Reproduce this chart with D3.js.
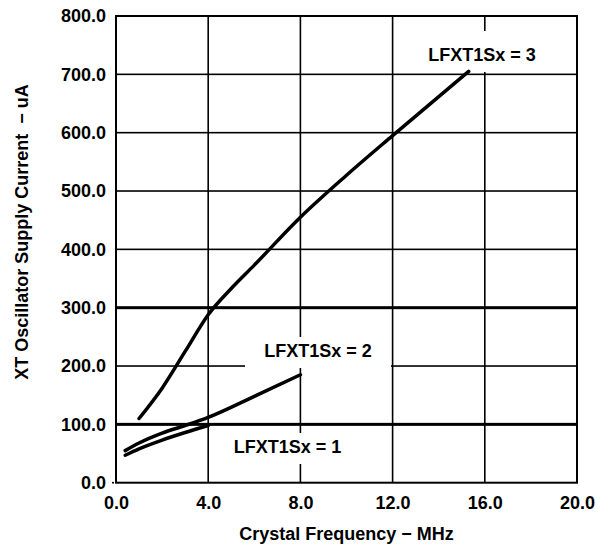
<!DOCTYPE html>
<html><head><meta charset="utf-8">
<script src="https://cdn.jsdelivr.net/npm/d3@7"></script>
<style>
html,body{margin:0;padding:0;background:#fff;}
text{font-family:"Liberation Sans",Arial,sans-serif;font-weight:bold;fill:#000;}
</style></head>
<body>
<svg id="chart" width="596" height="548"></svg>
<script>
// ---- data ----
const xTicks = [0, 4, 8, 12, 16, 20];
const yTicks = [0, 100, 200, 300, 400, 500, 600, 700, 800];
const thickY = [100, 300];
const series3X = [1.0, 2.0, 3.0, 4.0, 5.0, 6.0, 8.0, 10.0, 12.0, 15.3];
const series3Y = [110, 162, 225, 288, 333, 373, 455, 527, 595, 705];
const series2X = [0.4, 1.0, 2.0, 3.0, 4.0, 6.0, 8.0];
const series2Y = [55, 68, 85, 98, 112, 148, 185];
const series1X = [0.4, 1.0, 2.0, 3.0, 4.0];
const series1Y = [47, 58, 73, 86, 98];
const labels = ["LFXT1Sx = 3", "LFXT1Sx = 2", "LFXT1Sx = 1"];
const xTitle = "Crystal Frequency \u2212 MHz";
const yTitle = "XT Oscillator Supply Current  \u2212 uA";

const svg = d3.select("#chart");
const x = d3.scaleLinear().domain([0, 20]).range([116, 577]);
const y = d3.scaleLinear().domain([0, 800]).range([482.7, 16]);

// gridlines drawn as thin filled rects
const grid = svg.append("g").attr("class", "grid");
grid.selectAll("rect.vg").data(xTicks.slice(1, -1)).enter().append("rect")
  .attr("class", "vg")
  .attr("x", d => x(d) - 0.8).attr("width", 1.6)
  .attr("y", y(800)).attr("height", y(0) - y(800))
  .attr("fill", "#000");
grid.selectAll("rect.hg").data(yTicks.slice(1, -1)).enter().append("rect")
  .attr("class", "hg")
  .attr("x", x(0)).attr("width", x(20) - x(0))
  .attr("y", d => y(d) - (thickY.includes(d) ? 1.5 : 0.8))
  .attr("height", d => thickY.includes(d) ? 3 : 1.6)
  .attr("fill", "#000");

// label backgrounds (gaps in grid)
const labelBoxes = [
  {x0: 423, x1: 542, y0: 31, y1: 72},
  {x0: 245, x1: 391, y0: 337, y1: 368},
  {x0: 227, x1: 348, y0: 433, y1: 464}
];
svg.selectAll("rect.lb").data(labelBoxes).enter().append("rect")
  .attr("class", "lb")
  .attr("x", d => d.x0).attr("y", d => d.y0)
  .attr("width", d => d.x1 - d.x0).attr("height", d => d.y1 - d.y0)
  .attr("fill", "#fff");

// frame
svg.append("rect").attr("x", x(0)).attr("y", y(800))
  .attr("width", x(20) - x(0)).attr("height", y(0) - y(800))
  .attr("fill", "none").attr("stroke", "#000").attr("stroke-width", 2);

// axes
const xAxis = svg.append("g").attr("transform", `translate(0,${y(0)})`)
  .call(d3.axisBottom(x).tickValues(xTicks).tickSize(0).tickPadding(14).tickFormat(d3.format(".1f")));
const yAxis = svg.append("g").attr("transform", `translate(${x(0)},0)`)
  .call(d3.axisLeft(y).tickValues(yTicks).tickSize(0).tickPadding(10).tickFormat(d3.format(".1f")));
[xAxis, yAxis].forEach(a => {
  a.select(".domain").remove();
  a.selectAll("text").style("font-size", "18px").style("font-family", "'Liberation Sans',Arial,sans-serif").style("font-weight", "bold").attr("fill", "#000");
});
xAxis.selectAll("text").attr("dy", "0.71em");
// small tick at 0.0
svg.append("rect").attr("x", x(0) - 4).attr("width", 2)
  .attr("y", y(0) - 0.8).attr("height", 1.6).attr("fill", "#000");

// curves
const line = d3.line().x(d => x(d[0])).y(d => y(d[1])).curve(d3.curveMonotoneX);
const seriesList = [
  d3.zip(series3X, series3Y),
  d3.zip(series2X, series2Y),
  d3.zip(series1X, series1Y)
];
svg.selectAll("path.s").data(seriesList).enter().append("path")
  .attr("class", "s")
  .attr("d", line).attr("fill", "none").attr("stroke", "#000")
  .attr("stroke-width", 3.5).attr("stroke-linecap", "round");

// labels
const labelPos = [[482, 61], [318, 356.5], [287.5, 452.5]];
svg.selectAll("text.lab").data(labels).enter().append("text")
  .attr("class", "lab")
  .attr("x", (d, i) => labelPos[i][0]).attr("y", (d, i) => labelPos[i][1])
  .attr("text-anchor", "middle").style("font-size", "18px").text(d => d);

// titles
svg.append("text").attr("x", (x(0) + x(20)) / 2).attr("y", 540)
  .attr("text-anchor", "middle").style("font-size", "18px").text(xTitle);
svg.append("text").attr("transform", "translate(28,232) rotate(-90)")
  .attr("text-anchor", "middle").style("font-size", "18px").style("white-space", "pre").text(yTitle);
</script>
</body></html>
